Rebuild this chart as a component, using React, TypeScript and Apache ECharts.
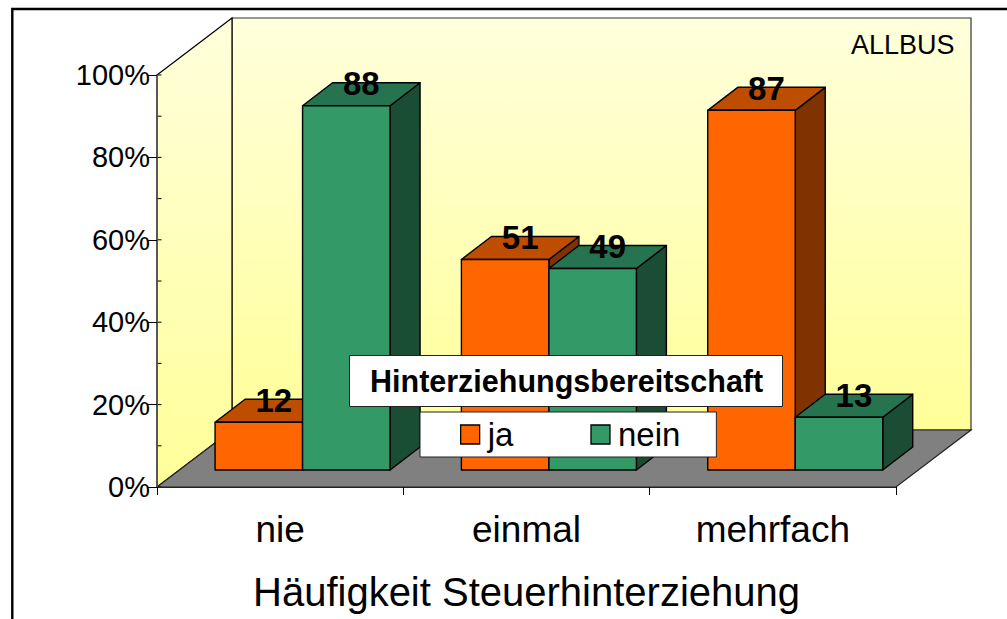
import React, { useEffect, useRef } from "react";
import * as echarts from "echarts";

const categories = ["nie", "einmal", "mehrfach"];
const jaValues = [11.6, 51.1, 87.3];
const neinValues = [88.4, 48.9, 12.8];
const yTicks = [0, 10, 20, 30, 40, 50, 60, 70, 80, 90, 100];
const FONT = '"Liberation Sans", Arial, sans-serif';

const WALL_DX = 75;
const WALL_DY = 57;
const INSET_DX = 22.4;
const INSET_DY = 17;
const BAR_DX = 30;
const BAR_DY = 23;
const BAR_W = 87.5;

const line = "#000";

function wallItem(params: any, api: any) {
  const c = params.coordSys;
  const l = c.x, r = c.x + c.width, t = c.y, b = c.y + c.height;
  const dx = WALL_DX, dy = WALL_DY;
  const wallFill = (from: string, to: string) =>
    new echarts.graphic.LinearGradient(0, 0, 0, 1, [
      { offset: 0, color: from },
      { offset: 1, color: to },
    ]);
  const children: any[] = [
    {
      type: "polygon",
      shape: { points: [[l + dx, t - dy], [r + dx, t - dy], [r + dx, b - dy], [l + dx, b - dy]] },
      style: { fill: wallFill("#FFFFDC", "#FFFF99"), stroke: "#333", lineWidth: 1.2 },
    },
    {
      type: "polygon",
      shape: { points: [[l, t], [l + dx, t - dy], [l + dx, b - dy], [l, b]] },
      style: { fill: wallFill("#FFFFDC", "#FFFF99"), stroke: line, lineWidth: 1.2 },
    },
    {
      type: "polygon",
      shape: { points: [[l, b], [l + dx, b - dy], [r + dx, b - dy], [r, b]] },
      style: { fill: "#808080", stroke: "#222", lineWidth: 1.2 },
    },
  ];
  yTicks.forEach((v) => {
    const y = api.coord([0, v])[1];
    children.push({
      type: "line",
      shape: { x1: l, y1: y, x2: l + 4.5, y2: y },
      style: { stroke: line, lineWidth: 1 },
    });
  });
  return { type: "group", children };
}

function barItem(colors: { front: string; top: string; side: string }) {
  return (_params: any, api: any) => {
    const cat = api.value(0);
    const val = api.value(1);
    const base = api.coord([cat, 0]);
    const peak = api.coord([cat, val]);
    const isJa = colors.front === "#FF6600";
    const cx = base[0] + INSET_DX;
    const x0 = isJa ? cx - BAR_W : cx;
    const x1 = x0 + BAR_W;
    const y0 = base[1] - INSET_DY;
    const y1 = peak[1] - INSET_DY;
    const stroke = { stroke: line, lineWidth: 1.4, lineJoin: "round" };
    return {
      type: "group",
      children: [
        {
          type: "polygon",
          shape: { points: [[x1, y1], [x1 + BAR_DX, y1 - BAR_DY], [x1 + BAR_DX, y0 - BAR_DY], [x1, y0]] },
          style: { fill: colors.side, ...stroke },
        },
        {
          type: "polygon",
          shape: { points: [[x0, y1], [x0 + BAR_DX, y1 - BAR_DY], [x1 + BAR_DX, y1 - BAR_DY], [x1, y1]] },
          style: { fill: colors.top, ...stroke },
        },
        {
          type: "polygon",
          shape: { points: [[x0, y1], [x1, y1], [x1, y0], [x0, y0]] },
          style: { fill: colors.front, ...stroke },
        },
        {
          type: "text",
          z2: 50,
          x: (x0 + x1) / 2 + BAR_DX / 2,
          y: y1 - BAR_DY + 1,
          style: {
            text: String(Math.round(val)),
            fill: "#000",
            font: `bold 33px ${FONT}`,
            align: "center",
            verticalAlign: "middle",
          },
        },
      ],
    };
  };
}

export default function App() {
  const ref = useRef<HTMLDivElement>(null);
  useEffect(() => {
    document.body.style.margin = "0";
    const chart = echarts.init(ref.current!, undefined, { renderer: "svg" });
    const jaColors = { front: "#FF6600", top: "#BF4D00", side: "#803300" };
    const neinColors = { front: "#339966", top: "#267350", side: "#1A4D33" };
    chart.setOption({
      animation: false,
      backgroundColor: "#fff",
      textStyle: { fontFamily: FONT },
      grid: { left: 157, right: 111, top: 75, bottom: 132, outerBoundsMode: "none", containLabel: false },
      title: [
        {
          text: "Hinterziehungsbereitschaft",
          left: 349,
          top: 356,
          padding: [10, 20, 10, 21],
          backgroundColor: "#fff",
          borderColor: "#222",
          borderWidth: 1,
          textStyle: { fontFamily: FONT, fontSize: 30.5, fontWeight: "bold", color: "#000", lineHeight: 30 },
        },
        {
          text: "ALLBUS",
          left: 851,
          top: 31,
          padding: 0,
          textStyle: { fontFamily: FONT, fontSize: 27, fontWeight: "normal", color: "#000" },
        },
      ],
      legend: {
        data: ["ja", "nein"],
        left: 420,
        top: 412,
        orient: "horizontal",
        padding: [6, 36, 6, 40],
        itemGap: 77,
        itemWidth: 19,
        itemHeight: 19,
        backgroundColor: "#fff",
        borderColor: "#222",
        borderWidth: 1,
        icon: "rect",
        itemStyle: { borderColor: "#000", borderWidth: 1.3 },
        textStyle: { fontFamily: FONT, fontSize: 33, color: "#000", padding: [0, 0, 0, 3] },
      },
      xAxis: {
        type: "category",
        data: categories,
        z: 3,
        axisLine: { lineStyle: { color: "#222", width: 1.2 } },
        axisTick: { show: true, length: 8, lineStyle: { color: "#000", width: 1 } },
        axisLabel: { fontFamily: FONT, fontSize: 37, color: "#000", margin: 24 },
        name: "Häufigkeit Steuerhinterziehung",
        nameLocation: "middle",
        nameGap: 85,
        nameTextStyle: { fontFamily: FONT, fontSize: 40, color: "#000" },
      },
      yAxis: {
        type: "value",
        min: 0,
        max: 100,
        interval: 20,
        z: 3,
        splitLine: { show: false },
        axisLine: { show: true, lineStyle: { color: "#555", width: 1.5 } },
        axisTick: { show: true, length: 9, lineStyle: { color: "#000", width: 1 } },
        axisLabel: { formatter: "{value}%", fontFamily: FONT, fontSize: 29, color: "#000", margin: 7 },
      },
      series: [
        {
          type: "custom",
          name: "wall",
          z: 1,
          silent: true,
          coordinateSystem: "cartesian2d",
          data: [[0, 0]],
          renderItem: wallItem,
        },
        {
          type: "custom",
          name: "ja",
          z: 2,
          coordinateSystem: "cartesian2d",
          itemStyle: { color: jaColors.front },
          encode: { x: 0, y: 1 },
          data: jaValues.map((v, i) => [i, v]),
          renderItem: barItem(jaColors),
        },
        {
          type: "custom",
          name: "nein",
          z: 2,
          coordinateSystem: "cartesian2d",
          itemStyle: { color: neinColors.front },
          encode: { x: 0, y: 1 },
          data: neinValues.map((v, i) => [i, v]),
          renderItem: barItem(neinColors),
        },
      ],
      graphic: [
        {
          type: "polyline",
          shape: { points: [[12.3, 619], [12.3, 9], [1007, 9]] },
          style: { fill: "none", stroke: "#000", lineWidth: 2.4 },
        },
      ],
    });
    return () => chart.dispose();
  }, []);
  return <div ref={ref} style={{ position: "fixed", left: 0, top: 0, width: 1007, height: 619 }} />;
}
